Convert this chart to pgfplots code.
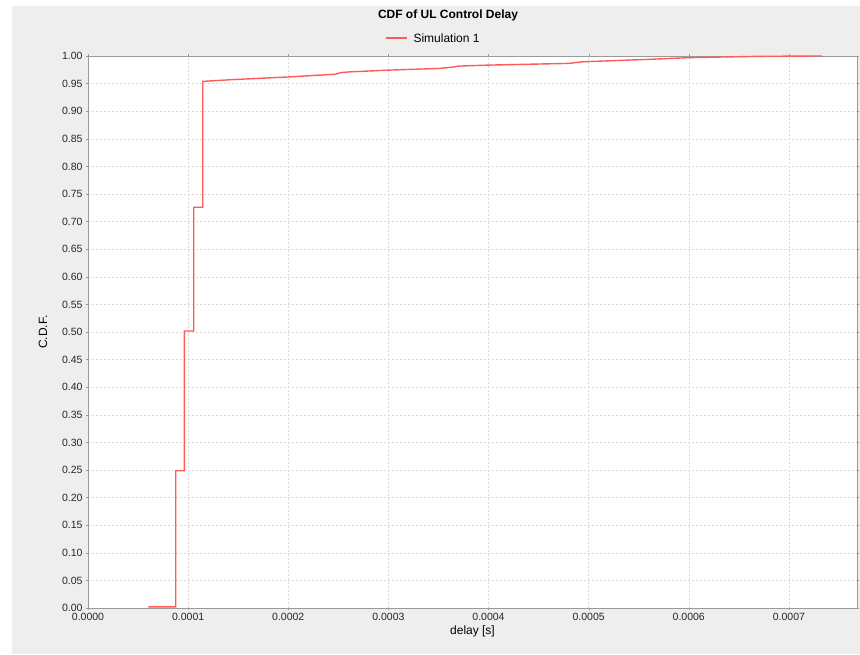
\documentclass[border=0pt]{standalone}
\usepackage{pgfplots}
\pgfplotsset{compat=1.18}
\usepackage{fontspec}
\setmainfont{Liberation Sans}
\definecolor{panelgray}{HTML}{EEEEEE}
\definecolor{simred}{HTML}{FF5A5A}
\definecolor{gridgray}{HTML}{DADADA}
\definecolor{axisgray}{HTML}{9A9A9A}
\begin{document}
\begin{tikzpicture}[x=1pt,y=1pt]
\fill[white] (0,0) rectangle (860,654);
\fill[panelgray] (12,0) rectangle (860,648);
\begin{axis}[
  at={(88pt,46pt)}, anchor=south west,
  scale only axis, width=769pt, height=552pt,
  xmin=0, xmax=0.000768, ymin=0, ymax=1,
  axis background/.style={fill=white},
  xtick={0,0.0001,0.0002,0.0003,0.0004,0.0005,0.0006,0.0007},
  ytick={0,0.05,...,1.0001},
  scaled x ticks=false, scaled y ticks=false,
  xticklabel style={/pgf/number format/.cd, fixed, fixed zerofill, precision=4},
  yticklabel style={/pgf/number format/.cd, fixed, fixed zerofill, precision=2},
  /pgf/number format/assume math mode=true,
  tick label style={font=\fontsize{10.5}{12}\selectfont, text=black!85},
  tick align=outside, major tick length=2pt,
  tick style={axisgray},
  axis line style={axisgray},
  grid=major,
  major grid style={gridgray, dash pattern=on 2pt off 2pt, line width=0.5pt},
  xlabel={delay [s]}, ylabel={C.D.F.},
  label style={font=\fontsize{12}{14}\selectfont},
  xlabel style={yshift=2pt},
  ylabel style={yshift=8pt},
  clip=false,
]
\addplot[simred, line width=1.4pt, line join=miter] coordinates {
(0.0000603,0.002) (0.0000876,0.002) (0.0000876,0.2487) (0.0000962,0.2487)
(0.0000962,0.5018) (0.0001056,0.5018) (0.0001056,0.726) (0.0001146,0.726)
(0.0001146,0.954) (0.000142,0.957) (0.0002,0.962) (0.000247,0.967)
(0.000253,0.970) (0.000262,0.9713) (0.0003,0.9744) (0.00035,0.9774)
(0.000365,0.980) (0.00037,0.9817) (0.0004,0.9835) (0.00048,0.9866)
(0.000495,0.9896) (0.00056,0.9939) (0.0006,0.997) (0.00067,0.9994)
(0.000733,1.0)
};
\end{axis}
\node[font=\bfseries\fontsize{12}{14}\selectfont] at (448,639) {CDF of UL Control Delay};
\draw[simred, line width=1.3pt] (386,616) -- (407,616);
\node[anchor=west, font=\fontsize{12}{14}\selectfont] at (410,616) {Simulation 1};
\end{tikzpicture}
\end{document}
